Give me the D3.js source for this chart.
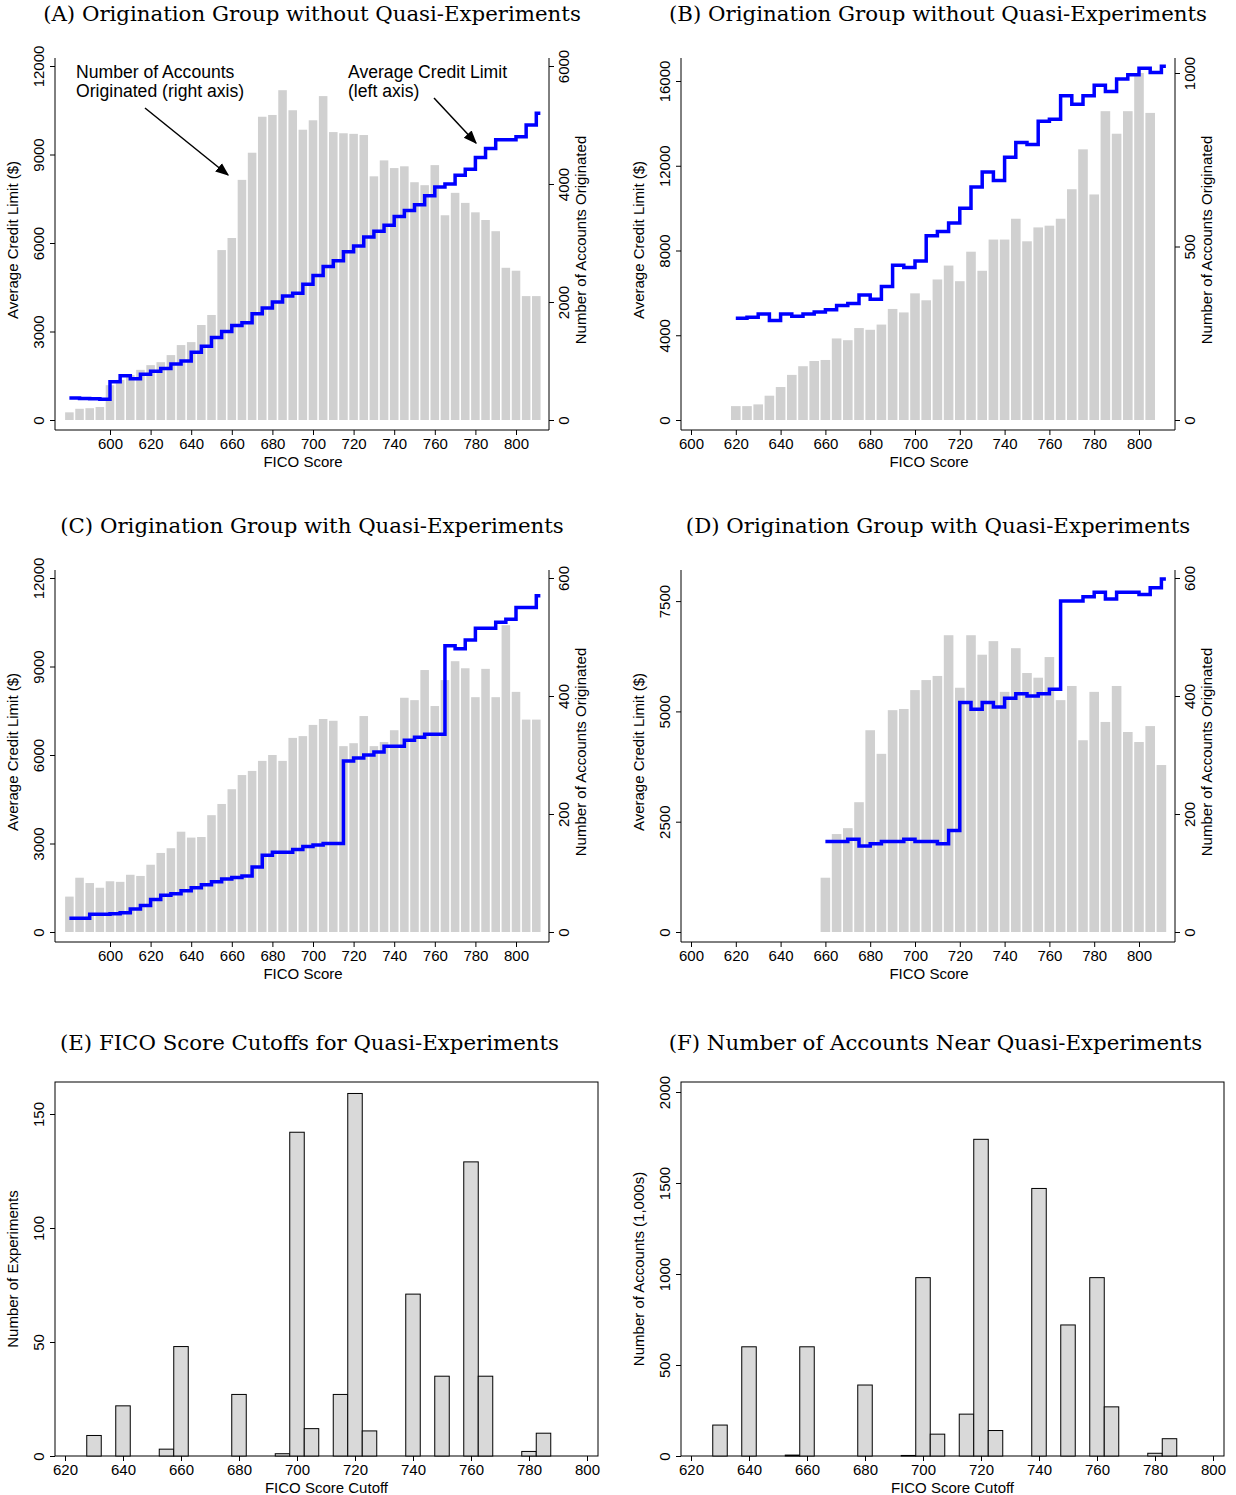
<!DOCTYPE html>
<html><head><meta charset="utf-8">
<script src="https://cdn.jsdelivr.net/npm/d3@7/dist/d3.min.js"></script>
<style>body{margin:0;background:#fff}</style></head>
<body><svg id="c" width="1236" height="1495"></svg>
<script>
const ficoA = d3.range(580, 811, 5);
const countsA = [130,190,200,220,590,680,760,850,930,980,1100,1270,1320,1610,1780,2880,3085,4070,4530,5140,5170,5590,5250,4920,5080,5490,4880,4860,4850,4830,4130,4400,4270,4300,4030,3980,4320,3470,3850,3680,3520,3390,3200,2580,2530,2100,2100];
const limitA = [750,730,720,700,1300,1500,1400,1550,1650,1750,1900,2000,2300,2500,2800,3000,3200,3300,3600,3800,4000,4200,4300,4600,4900,5200,5400,5700,5900,6200,6400,6600,6900,7100,7300,7600,7900,8000,8300,8500,8900,9200,9500,9500,9600,10000,10400];
const ficoB = d3.range(620, 811, 5);
const countsB = [40,40,45,70,95,130,155,170,173,235,230,265,260,275,320,310,365,345,405,445,400,485,430,520,520,580,515,555,560,580,665,780,650,890,825,890,1000,885];
const limitB = [4800,4850,5000,4700,5000,4900,5000,5100,5200,5400,5500,5900,5700,6300,7300,7200,7500,8700,8900,9300,10000,11000,11700,11300,12400,13100,13000,14100,14200,15300,14900,15300,15800,15500,16100,16300,16600,16400,16700];
const ficoC = d3.range(580, 811, 5);
const countsC = [60,92,83,75,86,85,97,95,114,134,142,170,160,161,198,217,242,266,273,290,300,290,329,332,351,361,358,315,320,366,315,322,342,397,393,444,383,427,459,447,398,446,398,520,407,360,360];
const limitC = [470,470,600,600,620,650,780,900,1100,1250,1300,1400,1500,1600,1700,1800,1850,1900,2200,2600,2700,2700,2800,2900,2950,3000,3000,5800,5900,6000,6100,6300,6300,6500,6600,6700,6700,9700,9600,9900,10300,10300,10500,10600,11000,11000,11400];
const ficoD = d3.range(660, 811, 5);
const countsD = [92,166,176,220,342,302,376,378,410,427,434,503,414,503,470,493,407,481,439,431,466,393,417,325,407,356,417,339,322,349,283];
const limitD = [2050,2050,2100,1950,2000,2050,2050,2100,2050,2050,2000,2300,5200,5050,5200,5100,5300,5400,5350,5400,5500,7500,7500,7600,7700,7550,7700,7700,7650,7800,8000];
const cutoffsE = [630,640,655,660,680,695,700,705,715,720,725,740,750,760,765,780,785];
const experimentsE = [9,22,3,48,27,1,142,12,27,159,11,71,35,129,35,2,10];
const accountsF = [170,600,5,600,390,3,980,120,230,1740,140,1470,720,980,270,15,95];
const xTicks = d3.range(600, 801, 20);
const xTicksEF = d3.range(620, 801, 20);

const svg = d3.select("#c");
const SANS = "Liberation Sans, Arial, sans-serif";
const SERIF = "DejaVu Serif, serif";
const fmt = d3.format("d");

function title(x, y, t) {
  svg.append("text").attr("x", x).attr("y", y).attr("text-anchor", "middle")
    .attr("font-family", SERIF).attr("font-size", 21.3).text(t);
}
function vLabel(g, x, y, t, size) {
  g.append("text").attr("transform", `translate(${x},${y}) rotate(-90)`).attr("text-anchor", "middle")
    .attr("font-family", SANS).attr("font-size", size || 16).text(t);
}
function styleAxis(g, rot) {
  g.selectAll("path,line").attr("stroke", "#000");
  g.selectAll("text").attr("font-family", SANS).attr("font-size", 15).attr("fill", "#000");
  if (rot) g.selectAll(".tick text").attr("transform", "rotate(-90)").attr("text-anchor", "middle")
    .attr("dy", rot === "l" ? "-0.15em" : "0.75em").attr("x", 0).attr("y", rot === "l" ? -9 : 9);
}

function panel(cfg) {
  const {fico, counts, limit, x0, x600, x800, yBase, yTop, lTicks, lPx, rTicks, rPx, ttl} = cfg;
  const x = d3.scaleLinear().domain([600, 800]).range([x600, x800]);
  const yL = d3.scaleLinear().domain([0, lTicks[1]]).range([yBase, yBase - lPx]);
  const yR = d3.scaleLinear().domain([0, rTicks[1]]).range([yBase, yBase - rPx]);
  const left = x0, right = x0 + 494;
  const g = svg.append("g");
  const bw = x(605) - x(600);
  g.selectAll("rect").data(fico).join("rect")
    .attr("x", (d) => x(d) - bw / 2 + 0.8).attr("width", bw - 1.6)
    .attr("y", (d, i) => yR(counts[i])).attr("height", (d, i) => yBase - yR(counts[i]))
    .attr("fill", "#d0d0d0");
  const pts = fico.map((d, i) => [d, limit[i]]);
  pts.push([fico[fico.length - 1] + 2, limit[limit.length - 1]]);
  const line = d3.line().x((d) => x(d[0])).y((d) => yL(d[1])).curve(d3.curveStepAfter);
  g.append("path").datum(pts).attr("d", line).attr("fill", "none").attr("stroke", "#0000ff").attr("stroke-width", 3.5);
  const ax = g.append("g").attr("transform", `translate(0,${yBase + 10})`)
    .call(d3.axisBottom(x).tickValues(xTicks).tickSize(5).tickSizeOuter(0));
  ax.select(".domain").attr("d", `M${left},0H${right}`);
  styleAxis(ax);
  const al = g.append("g").attr("transform", `translate(${left},0)`)
    .call(d3.axisLeft(yL).tickValues(lTicks).tickFormat(fmt).tickSize(5).tickSizeOuter(0));
  al.select(".domain").attr("d", `M0,${yBase + 10}V${yTop}`);
  styleAxis(al, "l");
  const ar = g.append("g").attr("transform", `translate(${right},0)`)
    .call(d3.axisRight(yR).tickValues(rTicks).tickFormat(fmt).tickSize(5).tickSizeOuter(0));
  ar.select(".domain").attr("d", `M0,${yBase + 10}V${yTop}`);
  styleAxis(ar, "r");
  g.append("text").attr("x", (left + right) / 2 + 1).attr("y", yBase + 47).attr("text-anchor", "middle")
    .attr("font-family", SANS).attr("font-size", 15).text("FICO Score");
  vLabel(g, left - 37, yBase - 180, "Average Credit Limit ($)", 15);
  vLabel(g, right + 37, yBase - 180, "Number of Accounts Originated", 15);
  title((left + right) / 2 + 10, yTop - 37, ttl);
  return g;
}

panel({fico: ficoA, counts: countsA, limit: limitA, x0: 55, x600: 110, x800: 516, yBase: 420, yTop: 58,
  lTicks: [0, 3000, 6000, 9000, 12000], lPx: 88.5, rTicks: [0, 2000, 4000, 6000], rPx: 118, ttl: "(A)  Origination Group without Quasi-Experiments"});
panel({fico: ficoB, counts: countsB, limit: limitB, x0: 681, x600: 691, x800: 1139, yBase: 420, yTop: 58,
  lTicks: [0, 4000, 8000, 12000, 16000], lPx: 84.75, rTicks: [0, 500, 1000], rPx: 173.5, ttl: "(B)  Origination Group without Quasi-Experiments"});
panel({fico: ficoC, counts: countsC, limit: limitC, x0: 55, x600: 110, x800: 516, yBase: 932, yTop: 570,
  lTicks: [0, 3000, 6000, 9000, 12000], lPx: 88.5, rTicks: [0, 200, 400, 600], rPx: 118, ttl: "(C)  Origination Group with Quasi-Experiments"});
panel({fico: ficoD, counts: countsD, limit: limitD, x0: 681, x600: 691, x800: 1139, yBase: 932, yTop: 570,
  lTicks: [0, 2500, 5000, 7500], lPx: 110.3, rTicks: [0, 200, 400, 600], rPx: 118, ttl: "(D)  Origination Group with Quasi-Experiments"});

const defs = svg.append("defs");
defs.append("marker").attr("id", "ah").attr("viewBox", "0 0 10 10").attr("refX", 9).attr("refY", 5)
  .attr("markerWidth", 9).attr("markerHeight", 9).attr("orient", "auto")
  .append("path").attr("d", "M0,1L10,5L0,9z").attr("fill", "#000");
function note(lines, x, y) {
  lines.forEach((t, i) => svg.append("text").attr("x", x).attr("y", y + i * 18.5).attr("font-family", SANS).attr("font-size", 17.6).text(t));
}
note(["Number of Accounts", "Originated (right axis)"], 76, 78);
note(["Average Credit Limit", "(left axis)"], 348, 78);
svg.append("line").attr("x1", 145).attr("y1", 108).attr("x2", 228).attr("y2", 175).attr("stroke", "#000").attr("stroke-width", 1.5).attr("marker-end", "url(#ah)");
svg.append("line").attr("x1", 434).attr("y1", 98).attr("x2", 476).attr("y2", 143).attr("stroke", "#000").attr("stroke-width", 1.5).attr("marker-end", "url(#ah)");

function histPanel(cfg) {
  const {vals, x0, x620, x800, yTicks, yPx, ylab, xlab, ttl} = cfg;
  const left = x0, right = x0 + 543, top = 1082, base = 1456;
  const x = d3.scaleLinear().domain([620, 800]).range([x620, x800]);
  const y = d3.scaleLinear().domain([0, yTicks[1]]).range([base, base - yPx]);
  const g = svg.append("g");
  g.append("rect").attr("x", left).attr("y", top).attr("width", right - left).attr("height", base - top)
    .attr("fill", "none").attr("stroke", "#000");
  const bw = x(625) - x(620);
  g.selectAll(".b").data(cutoffsE).join("rect")
    .attr("x", (d) => x(d) - bw / 2).attr("width", bw)
    .attr("y", (d, i) => y(vals[i])).attr("height", (d, i) => base - y(vals[i]))
    .attr("fill", "#d9d9d9").attr("stroke", "#000").attr("stroke-width", 1);
  const ax = g.append("g").attr("transform", `translate(0,${base})`)
    .call(d3.axisBottom(x).tickValues(xTicksEF).tickSize(5).tickSizeOuter(0));
  ax.select(".domain").remove();
  styleAxis(ax);
  const al = g.append("g").attr("transform", `translate(${left},0)`)
    .call(d3.axisLeft(y).tickValues(yTicks).tickFormat(fmt).tickSize(5).tickSizeOuter(0));
  al.select(".domain").remove();
  styleAxis(al, "l");
  g.append("text").attr("x", (left + right) / 2).attr("y", base + 37).attr("text-anchor", "middle")
    .attr("font-family", SANS).attr("font-size", 15).text(xlab);
  vLabel(g, left - 37, base - 187, ylab, 15);
  title((left + right) / 2 - 17, 1050, ttl);
}
histPanel({vals: experimentsE, x0: 55, x620: 65, x800: 587, yTicks: [0, 50, 100, 150], yPx: 114,
  ylab: "Number of Experiments", xlab: "FICO Score Cutoff", ttl: "(E)  FICO Score Cutoffs for Quasi-Experiments"});
histPanel({vals: accountsF, x0: 681, x620: 691, x800: 1213, yTicks: [0, 500, 1000, 1500, 2000], yPx: 91,
  ylab: "Number of Accounts (1,000s)", xlab: "FICO Score Cutoff", ttl: "(F)  Number of Accounts Near Quasi-Experiments"});
</script></body></html>
